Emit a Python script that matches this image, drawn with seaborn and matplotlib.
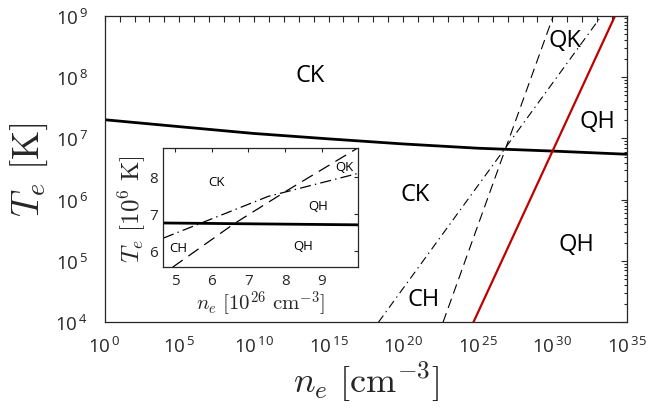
import numpy as np
import matplotlib
matplotlib.use('Agg')
import matplotlib.pyplot as plt
import matplotlib.ticker as mticker
import seaborn as sns

# boundary lines (n_e in cm^-3, T_e in K)
ne_curve = [1e0, 1e5, 1e10, 1e15, 1e20, 1e25, 1e30, 1e35]
te_curve = [2.01e7, 1.55e7, 1.20e7, 9.8e6, 8.1e6, 6.9e6, 6.2e6, 5.5e6]

ne_dash = [4.7e22, 1.17e30]
te_dash = [1e4, 1e9]
ne_dashdot = [2.2e18, 2.0e33]
te_dashdot = [1e4, 1e9]
ne_red = [5.1e24, 1.6e34]
te_red = [1e4, 1e9]

# inset, in units of 1e26 cm^-3 and 1e6 K
ins_ne_solid = [4.68, 9.98]
ins_te_solid = [6.75, 6.70]
ins_ne_dash = [4.93, 6.61, 8.09, 9.98]
ins_te_dash = [5.55, 6.73, 7.65, 8.78]
ins_ne_dashdot = [4.68, 7.54, 9.98]
ins_te_dashdot = [6.34, 7.47, 8.09]

region_labels = ['CK', 'QK', 'QH', 'CK', 'QH', 'CH']
region_ne = [5.8e13, 7.1e30, 1.05e33, 6.3e20, 4.3e31, 2.5e21]
region_te = [1.07e8, 4.0e8, 1.95e7, 1.23e6, 1.9e5, 2.4e4]

inset_labels = ['CK', 'QK', 'QH', 'QH', 'CH']
inset_ne = [6.12, 9.61, 8.91, 8.48, 5.09]
inset_te = [7.88, 8.28, 7.22, 6.13, 6.09]

sns.set_theme(style='white')
plt.rcParams['font.family'] = ['Open Sans', 'DejaVu Sans']
plt.rcParams['mathtext.fontset'] = 'cm'
plt.rcParams['lines.scale_dashes'] = False

dark = '#262626'
red = '#c00000'

fig = plt.figure(figsize=(6.49, 4.14), dpi=100)
ax = fig.add_axes([0.1613, 0.2191, 0.8048, 0.7406])
ax.set_xscale('log')
ax.set_yscale('log')

sns.lineplot(x=ne_curve, y=te_curve, ax=ax, color='black', linewidth=2.0)
sns.lineplot(x=ne_dash, y=te_dash, ax=ax, color='black', linewidth=0.8,
             linestyle=(0, (7, 4)))
sns.lineplot(x=ne_dashdot, y=te_dashdot, ax=ax, color='black', linewidth=0.8,
             linestyle=(0, (6, 3, 1, 3)))
sns.lineplot(x=ne_red, y=te_red, ax=ax, color=red, linewidth=1.6)

for lab, xx, yy in zip(region_labels, region_ne, region_te):
    ax.text(xx, yy, lab, fontsize=17, ha='center', va='center', color='black')

ax.set_xlim(1e0, 1e35)
ax.set_ylim(1e4, 1e9)
ax.xaxis.set_major_locator(mticker.FixedLocator(10.0 ** np.arange(0, 36, 5)))
ax.xaxis.set_minor_locator(mticker.FixedLocator(10.0 ** np.arange(0, 36)))
ax.yaxis.set_major_locator(mticker.LogLocator(base=10, numticks=10))
ax.yaxis.set_minor_locator(mticker.LogLocator(base=10, subs=np.arange(2, 10), numticks=10))
fmt = mticker.FuncFormatter(lambda v, p: r'$\mathregular{10^{\,%d}}$' % round(np.log10(v)))
ax.xaxis.set_major_formatter(fmt)
ax.yaxis.set_major_formatter(fmt)
ax.xaxis.set_minor_formatter(mticker.NullFormatter())
ax.yaxis.set_minor_formatter(mticker.NullFormatter())
ax.tick_params(which='both', direction='in', top=True, right=True, colors=dark,
               labelsize=13.5, width=0.8)
ax.tick_params(axis='x', which='both', length=4, pad=10)
ax.tick_params(axis='y', which='major', length=4, pad=12)
ax.tick_params(axis='y', which='minor', length=2.5)
for s in ax.spines.values():
    s.set_color(dark)
    s.set_linewidth(0.9)
ax.set_xlabel(r'$n_e\ [\mathrm{cm}^{-3}]$', fontsize=26, color=dark, labelpad=2)
ax.set_ylabel(r'$T_e\ [\mathrm{K}]$', fontsize=27, color=dark, labelpad=4)

# inset
ins = fig.add_axes([0.2516, 0.3519, 0.2996, 0.2882])
sns.lineplot(x=ins_ne_solid, y=ins_te_solid, ax=ins, color='black', linewidth=2.0)
sns.lineplot(x=ins_ne_dash, y=ins_te_dash, ax=ins, color='black', linewidth=0.9,
             linestyle=(0, (9, 5)))
sns.lineplot(x=ins_ne_dashdot, y=ins_te_dashdot, ax=ins, color='black', linewidth=0.9,
             linestyle=(0, (8, 3, 1, 3)))
for lab, xx, yy in zip(inset_labels, inset_ne, inset_te):
    ins.text(xx, yy, lab, fontsize=9.5, ha='center', va='center', color='black')
ins.set_xlim(4.68, 9.98)
ins.set_ylim(5.55, 8.78)
ins.set_xticks([5, 6, 7, 8, 9])
ins.set_yticks([6, 7, 8])
ins.tick_params(direction='in', top=True, right=True, colors=dark, labelsize=11,
                length=3, width=0.8, pad=4)
for s in ins.spines.values():
    s.set_color(dark)
    s.set_linewidth(0.9)
ins.set_xlabel(r'$n_e\ [10^{26}\ \mathrm{cm}^{-3}]$', fontsize=15, color=dark, labelpad=0)
ins.set_ylabel(r'$T_e\ [10^{6}\ \mathrm{K}]$', fontsize=18, color=dark, labelpad=1)

fig.savefig('out.png', dpi=100)
